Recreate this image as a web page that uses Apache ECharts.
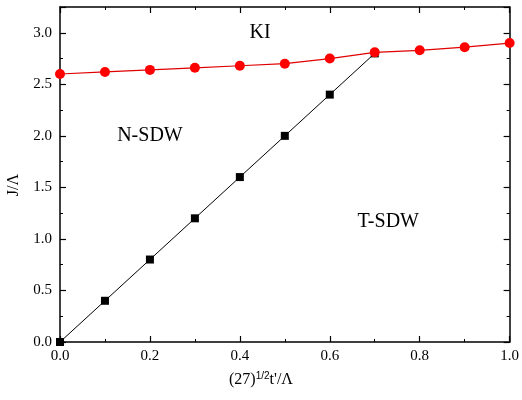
<!DOCTYPE html>
<html>
<head>
<meta charset="utf-8">
<script src="https://cdn.jsdelivr.net/npm/echarts@6/dist/echarts.min.js"></script>
<style>
  html, body { margin: 0; padding: 0; background: #fff; }
  #main { width: 522px; height: 400px; }
</style>
</head>
<body>
<div id="main"></div>
<script>
// phase boundaries
const tPrime = [0, 0.1, 0.2, 0.3, 0.4, 0.5, 0.6, 0.7, 0.8, 0.9, 1.0]
const kiBoundary = [2.60, 2.62, 2.64, 2.66, 2.68, 2.70, 2.75, 2.81, 2.83, 2.86, 2.90]
const sdwX = [0, 0.1, 0.2, 0.3, 0.4, 0.5, 0.6, 0.7]
const sdwBoundary = [0, 0.4, 0.8, 1.2, 1.6, 2.0, 2.4, 2.8]
const phaseLabels = [
  { name: 'KI', x: 0.445, y: 3.0 },
  { name: 'N-SDW', x: 0.2, y: 2.0 },
  { name: 'T-SDW', x: 0.73, y: 1.17 }
]

const font = '"Liberation Serif", "Times New Roman", serif'

function pairs (xs, ys) {
  return xs.map((x, i) => [x, ys[i]])
}

const axisLine = { show: true, onZero: false, lineStyle: { color: '#000', width: 1.5 } }
const tick = { show: true, inside: true, length: 6, lineStyle: { color: '#000', width: 1.2 } }
const minor = { show: true, splitNumber: 2, length: 3, lineStyle: { color: '#000', width: 1 } }

const myChart = echarts.init(document.getElementById('main'))
myChart.setOption({
  animation: false,
  grid: { left: 60, right: 9, top: 7, bottom: 58 },
  xAxis: [
    {
      type: 'value', min: 0, max: 1, interval: 0.2,
      axisLine: axisLine, axisTick: tick, minorTick: minor,
      splitLine: { show: false },
      axisLabel: { color: '#000', fontFamily: font, fontSize: 15, margin: 7, formatter: v => v.toFixed(1) }
    },
    {
      type: 'value', position: 'top', min: 0, max: 1, interval: 0.2,
      axisLine: axisLine, axisTick: tick, minorTick: minor,
      splitLine: { show: false }, axisLabel: { show: false }
    }
  ],
  yAxis: [
    {
      type: 'value', min: 0, max: 3.25, interval: 0.5,
      axisLine: axisLine, axisTick: tick, minorTick: minor,
      splitLine: { show: false },
      axisLabel: { color: '#000', fontFamily: font, fontSize: 15, margin: 8, showMaxLabel: false, formatter: v => v.toFixed(1) }
    },
    {
      type: 'value', position: 'right', min: 0, max: 3.25, interval: 0.5,
      axisLine: axisLine, axisTick: tick, minorTick: minor,
      splitLine: { show: false }, axisLabel: { show: false }
    }
  ],
  series: [
    {
      type: 'line',
      data: pairs(sdwX, sdwBoundary),
      symbol: 'rect', symbolSize: 8,
      itemStyle: { color: '#000' },
      lineStyle: { color: '#000', width: 1 },
      z: 2
    },
    {
      type: 'line',
      data: pairs(tPrime, kiBoundary),
      symbol: 'circle', symbolSize: 10,
      itemStyle: { color: '#ff0000' },
      lineStyle: { color: '#e00000', width: 1.2 },
      z: 3
    },
    {
      type: 'scatter',
      data: phaseLabels.map(p => ({ value: [p.x, p.y], name: p.name })),
      symbolSize: 0,
      itemStyle: { color: '#000', opacity: 1 },
      label: {
        show: true, position: 'inside', formatter: '{b}',
        color: '#000', fontFamily: font, fontSize: 20,
        textBorderWidth: 0, opacity: 1
      },
      silent: true
    }
  ],
  graphic: [
    {
      type: 'text', x: 14, y: 185, rotation: Math.PI / 2,
      style: { text: 'J/Λ', font: '16px ' + font, fill: '#000', textAlign: 'center', textVerticalAlign: 'middle' }
    },
    {
      type: 'text', left: 'center', top: 371,
      style: {
        text: '(27){sup|1/2}t\'/Λ',
        rich: { sup: { fontSize: 10, verticalAlign: 'top', padding: [0, 0, 8, 0] } },
        font: '16px ' + font, fill: '#000'
      }
    }
  ]
})
window.addEventListener('resize', function () {
  myChart.resize()
})
</script>
</body>
</html>
